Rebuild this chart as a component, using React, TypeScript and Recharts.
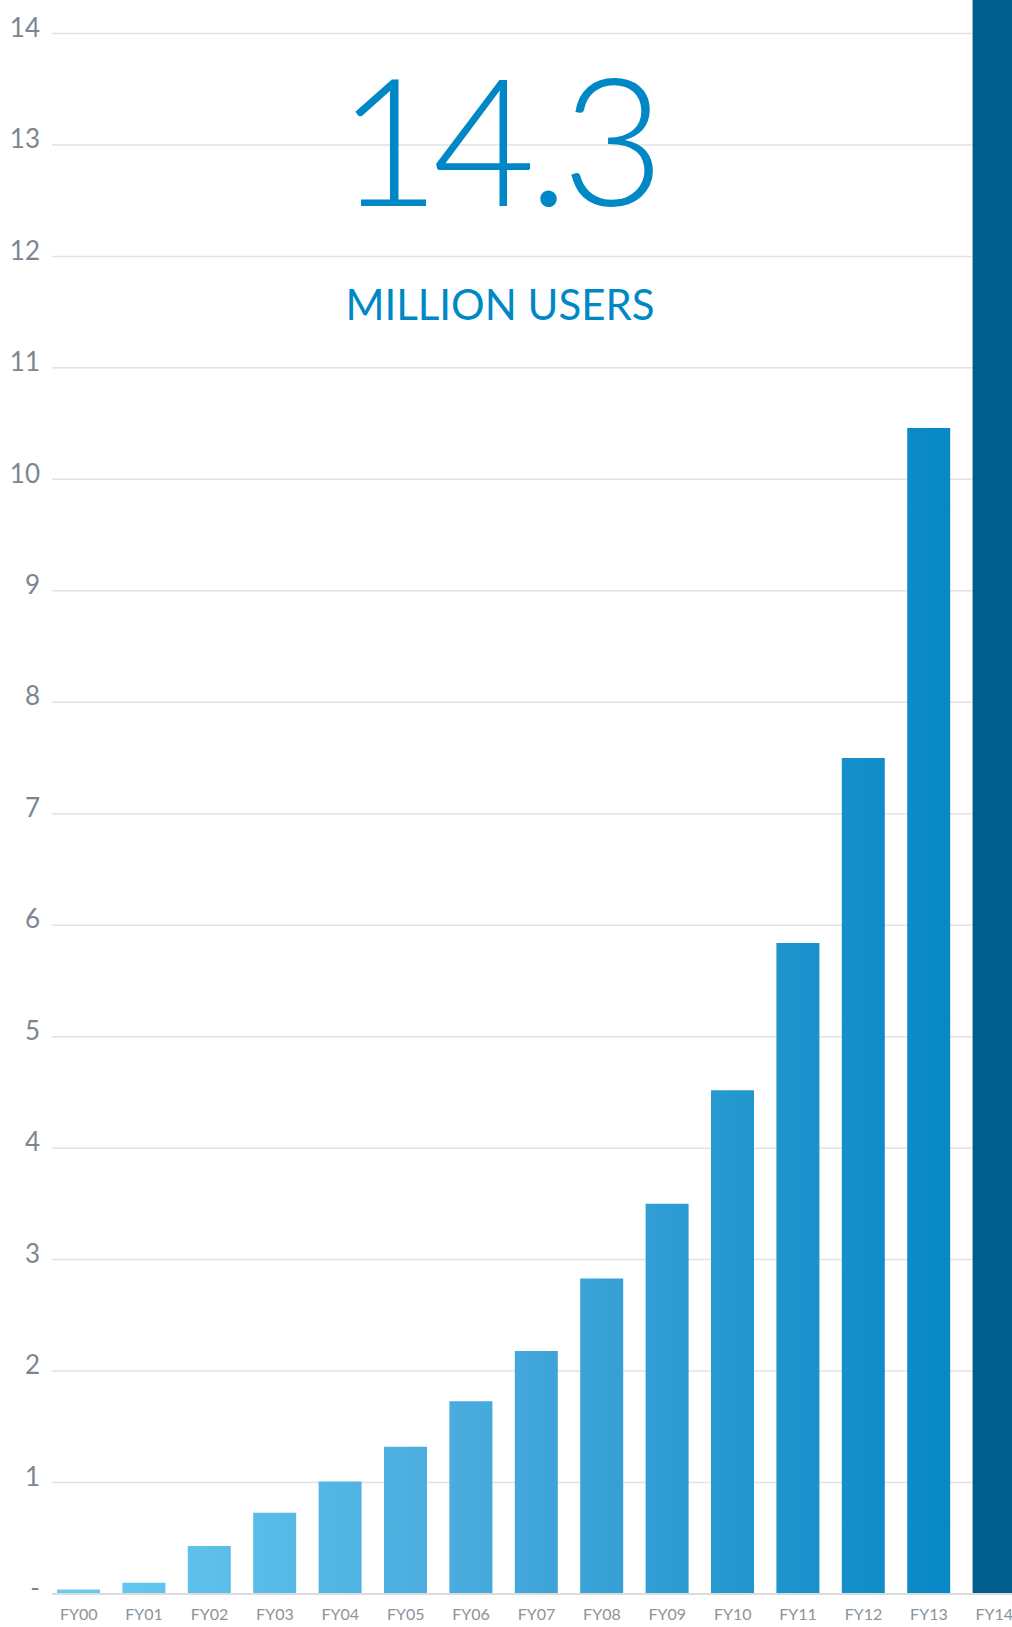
import { BarChart, Bar, XAxis, YAxis, CartesianGrid, Cell } from 'recharts'

const years = ['FY00', 'FY01', 'FY02', 'FY03', 'FY04', 'FY05', 'FY06', 'FY07', 'FY08', 'FY09', 'FY10', 'FY11', 'FY12', 'FY13', 'FY14']
const users = [0.04, 0.1, 0.43, 0.73, 1.01, 1.32, 1.73, 2.18, 2.83, 3.5, 4.52, 5.84, 7.5, 10.46, 14.3]
const yTicks = [0, 1, 2, 3, 4, 5, 6, 7, 8, 9, 10, 11, 12, 13, 14]

const headline = '14.3'
const subline = 'MILLION USERS'

const data = years.map((year, i) => ({ year, users: users[i] }))

const FONT = 'Lato, "Noto Sans", sans-serif'

export default function App() {
  const last = data.length - 1
  return (
    <div style={{ position: 'absolute', left: 0, top: 0, width: 1012, height: 1627, overflow: 'hidden', background: '#fff' }}>
      <BarChart
        width={1027}
        height={1627}
        data={data}
        margin={{ top: 0, right: 0, bottom: 0, left: 0 }}
      >
        <defs>
          <linearGradient id="barFade" gradientUnits="userSpaceOnUse" x1="57" y1="0" x2="950" y2="0">
            <stop offset="0%" stopColor="#6acbf2" />
            <stop offset="50%" stopColor="#45a8db" />
            <stop offset="100%" stopColor="#0788c5" />
          </linearGradient>
        </defs>
        <CartesianGrid vertical={false} stroke="#e2e2e2" strokeWidth={1.5} horizontalValues={yTicks} />
        <XAxis
          dataKey="year"
          padding={{ left: -6, right: 0 }}
          height={33}
          tickLine={false}
          tickSize={0}
          tickMargin={15}
          axisLine={{ stroke: '#dcdcdc', strokeWidth: 2 }}
          interval={0}
          tick={{ fill: '#8b939b', fontSize: 16, fontFamily: FONT }}
        />
        <YAxis
          width={52}
          domain={[0, 14.3]}
          ticks={yTicks}
          interval={0}
          tickLine={false}
          tickSize={0}
          tickMargin={12}
          axisLine={false}
          tickFormatter={(v: number) => (v === 0 ? '-' : String(v))}
          tick={{ fill: '#7d8690', fontSize: 26, fontFamily: FONT, dy: -6 }}
        />
        <Bar dataKey="users" barSize={43} isAnimationActive={false}>
          {data.map((entry, i) => (
            <Cell key={entry.year} fill={i === last ? '#005e8e' : 'url(#barFade)'} />
          ))}
        </Bar>
      </BarChart>
      <svg
        width={1012}
        height={400}
        style={{ position: 'absolute', left: 0, top: 0, pointerEvents: 'none' }}
      >
        <text
          x={497}
          y={206}
          textAnchor="middle"
          fill="#0088c6"
          fontFamily={FONT}
          fontWeight={300}
          fontSize={178}
          letterSpacing={-8}
        >
          {headline}
        </text>
        <text
          x={500}
          y={320}
          textAnchor="middle"
          fill="#0088c6"
          fontFamily={FONT}
          fontSize={42}
        >
          {subline}
        </text>
      </svg>
    </div>
  )
}
